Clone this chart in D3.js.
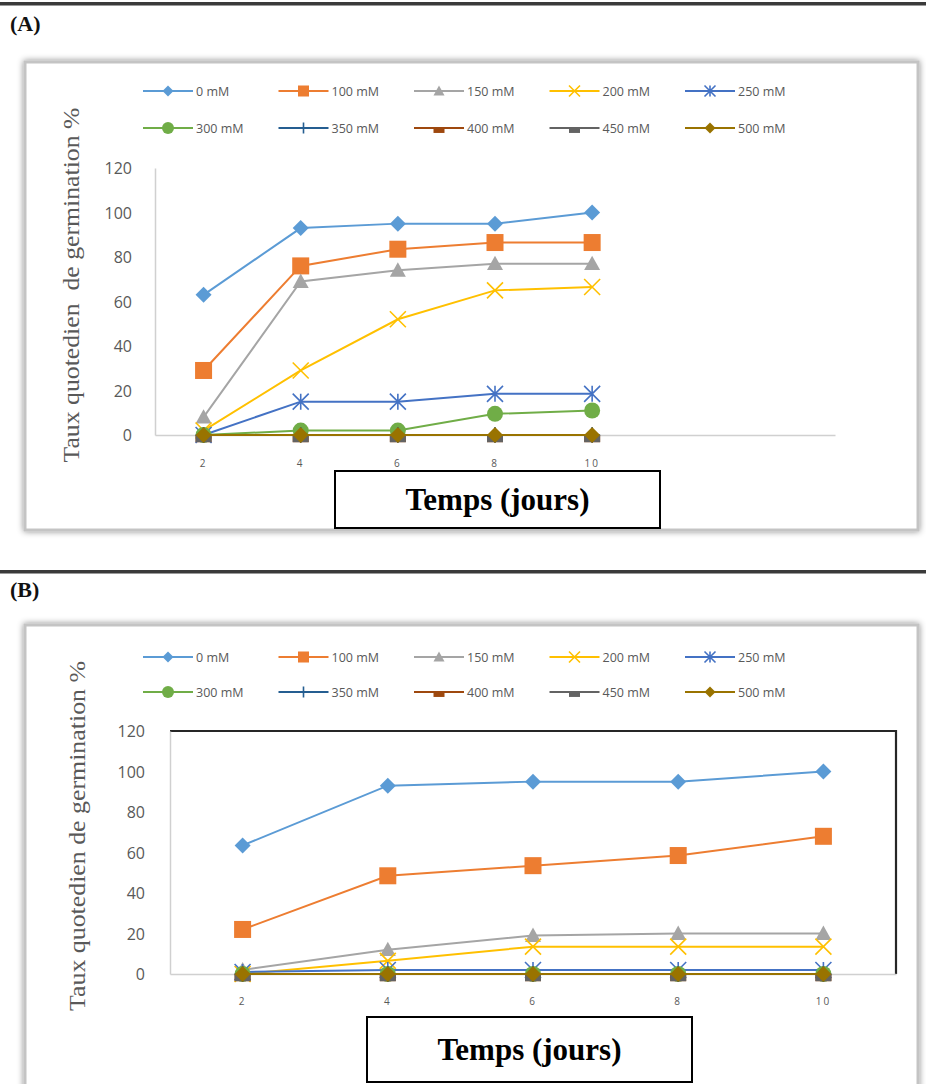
<!DOCTYPE html>
<html lang="fr">
<head>
<meta charset="UTF-8">
<title>Taux quotidien de germination</title>
<script src="https://cdnjs.cloudflare.com/ajax/libs/d3/7.8.5/d3.min.js"></script>
<style>
  * { margin: 0; padding: 0; }
  body { background: #fff; width: 926px; height: 1084px; overflow: hidden; }
  svg { display: block; }
  .tick text { fill: #595959; font-family: "Open Sans", sans-serif; }
</style>
</head>
<body>
<div id="chart"></div>
<script>
// series names (NaCl concentration) and x categories (days)
var concentrations = ["0 mM", "100 mM", "150 mM", "200 mM", "250 mM",
                      "300 mM", "350 mM", "400 mM", "450 mM", "500 mM"];
var days = [2, 4, 6, 8, 10];
var yTicks = [0, 20, 40, 60, 80, 100, 120];

// (A) one row per concentration, one value per day
var valuesA = [
  [63, 93, 95, 95, 100],
  [29, 76, 83.5, 86.5, 86.5],
  [8, 69, 74, 77, 77],
  [2, 29, 52, 65, 66.5],
  [0, 15, 15, 18.5, 18.5],
  [0, 2, 2, 9.5, 11],
  [0, 0, 0, 0, 0],
  [0, 0, 0, 0, 0],
  [0, 0, 0, 0, 0],
  [0, 0, 0, 0, 0]
];

// (B)
var valuesB = [
  [63.5, 93, 95, 95, 100],
  [22, 48.5, 53.5, 58.5, 68],
  [2, 12, 19, 20, 20],
  [0, 6.5, 13.5, 13.5, 13.5],
  [1, 2, 2, 2, 2],
  [0, 0, 0, 0, 0],
  [0, 0, 0, 0, 0],
  [0, 0, 0, 0, 0],
  [0, 0, 0, 0, 0],
  [0, 0, 0, 0, 0]
];

var colors = ["#5B9BD5", "#ED7D31", "#A5A5A5", "#FFC000", "#4472C4",
              "#70AD47", "#255E91", "#9E480E", "#636363", "#997300"];
var markers = ["diamond", "square", "triangle", "x", "star",
               "circle", "plus", "dash", "dash", "diamond"];

var W = 926, H = 1084;
var svg = d3.select("#chart").append("svg")
    .attr("width", W)
    .attr("height", H);

var defs = svg.append("defs");
var shadow = defs.append("filter").attr("id", "shadow")
    .attr("x", "-5%").attr("y", "-5%").attr("width", "110%").attr("height", "110%");
shadow.append("feDropShadow")
    .attr("dx", 0).attr("dy", 0)
    .attr("stdDeviation", 3)
    .attr("flood-color", "#000")
    .attr("flood-opacity", 0.45);

// draws one marker centred on 0,0 inside g, s = nominal size
function drawMarker(g, type, s, color) {
  var h = s / 2;
  if (type == "diamond") {
    g.append("path").attr("d", "M0," + (-h) + "L" + h + ",0L0," + h + "L" + (-h) + ",0Z")
      .attr("fill", color);
  } else if (type == "square") {
    g.append("rect").attr("x", -h).attr("y", -h).attr("width", s).attr("height", s)
      .attr("fill", color);
  } else if (type == "triangle") {
    g.append("path").attr("d", "M0," + (-h) + "L" + h + "," + (h * 0.8) + "L" + (-h) + "," + (h * 0.8) + "Z")
      .attr("fill", color);
  } else if (type == "circle") {
    g.append("circle").attr("r", h).attr("fill", color);
  } else if (type == "x") {
    g.append("path").attr("d", "M" + (-h) + "," + (-h) + "L" + h + "," + h + "M" + h + "," + (-h) + "L" + (-h) + "," + h)
      .attr("stroke", color).attr("stroke-width", 1.6).attr("fill", "none");
  } else if (type == "star") {
    g.append("path").attr("d", "M" + (-h) + "," + (-h) + "L" + h + "," + h + "M" + h + "," + (-h) + "L" + (-h) + "," + h +
        "M0," + (-h) + "L0," + h)
      .attr("stroke", color).attr("stroke-width", 1.6).attr("fill", "none");
  } else if (type == "plus") {
    g.append("path").attr("d", "M0," + (-h) + "L0," + h + "M" + (-h) + ",0L" + h + ",0")
      .attr("stroke", color).attr("stroke-width", 1.6).attr("fill", "none");
  } else if (type == "dash") {
    g.append("rect").attr("x", -h).attr("y", 0).attr("width", s).attr("height", s * 0.45)
      .attr("fill", color);
  }
}

var panels = [
  {
    label: "(A)", ruleY: 4, labelY: 31,
    frame: [25, 62, 893, 468],
    legendY: [91, 128],
    x0: 155, x1: 835, y0: 435, y1: 168, slots: 7,
    yPad: 23, xPad: 25,
    title: "Taux quotedien  de germination %", titleX: 71, titleY: 285, titleLen: 355,
    box: [335, 471, 325, 57],
    border: false,
    values: valuesA
  },
  {
    label: "(B)", ruleY: 572, labelY: 597,
    frame: [25, 625, 893, 480],
    legendY: [657, 692],
    x0: 170, x1: 896, y0: 974, y1: 731, slots: 5,
    yPad: 25, xPad: 24,
    title: "Taux quotedien de germination %", titleX: 77, titleY: 836, titleLen: 350,
    box: [367, 1017, 325, 65],
    border: true,
    values: valuesB
  }
];

panels.forEach(function(p) {
  // horizontal rule and panel letter
  svg.append("rect").attr("x", 0).attr("y", p.ruleY - 2).attr("width", W).attr("height", 3)
    .attr("fill", "#3a3a3a");
  svg.append("rect").attr("x", 0).attr("y", p.ruleY + 1).attr("width", W).attr("height", 1)
    .attr("fill", "#9a9a9a");
  svg.append("text")
    .attr("x", 10).attr("y", p.labelY)
    .attr("font-family", "Liberation Serif, serif")
    .attr("font-weight", "bold")
    .attr("font-size", 22)
    .attr("fill", "#111")
    .text(p.label);

  // chart frame
  svg.append("rect")
    .attr("x", p.frame[0]).attr("y", p.frame[1])
    .attr("width", p.frame[2]).attr("height", p.frame[3])
    .attr("fill", "#fff")
    .attr("stroke", "#c4c4c4")
    .attr("stroke-width", 3)
    .attr("filter", "url(#shadow)");

  // legend, two rows of five
  concentrations.forEach(function(name, i) {
    var lx = 143 + (i % 5) * 135.5;
    var ly = p.legendY[Math.floor(i / 5)];
    var lg = svg.append("g");
    lg.append("line")
      .attr("x1", lx).attr("x2", lx + 50)
      .attr("y1", ly).attr("y2", ly)
      .attr("stroke", colors[i]).attr("stroke-width", 2);
    var mg = lg.append("g").attr("transform", "translate(" + (lx + 25) + "," + ly + ")");
    drawMarker(mg, markers[i], markers[i] == "circle" ? 12 : 11, colors[i]);
    lg.append("text")
      .attr("x", lx + 53).attr("y", ly + 4.5)
      .attr("font-family", "Open Sans, sans-serif")
      .attr("font-size", 12.5)
      .attr("fill", "#595959")
      .text(name);
  });

  var x = d3.scaleBand()
    .domain(d3.range(p.slots))
    .range([p.x0, p.x1]);
  var y = d3.scaleLinear()
    .domain([0, 120])
    .range([p.y0, p.y1]);

  // plot border (B only: dark top/right edges)
  if (p.border) {
    svg.append("path")
      .attr("d", "M" + p.x0 + "," + p.y1 + "H" + p.x1 + "V" + p.y0)
      .attr("fill", "none")
      .attr("stroke", "#262626")
      .attr("stroke-width", 2.2);
  }

  var yAxis = svg.append("g")
    .attr("transform", "translate(" + p.x0 + ",0)")
    .call(d3.axisLeft(y).tickValues(yTicks).tickSize(0).tickPadding(p.yPad));
  yAxis.select(".domain").attr("stroke", "#d0d0d0").attr("stroke-width", 1.5);
  yAxis.selectAll(".tick text").attr("font-size", 16).attr("dy", "0.35em");

  var xAxis = svg.append("g")
    .attr("transform", "translate(0," + p.y0 + ")")
    .call(d3.axisBottom(x)
      .tickValues(d3.range(days.length))
      .tickFormat(function(i) { return days[i]; })
      .tickSize(0).tickPadding(p.xPad));
  xAxis.select(".domain").attr("stroke", "#d0d0d0").attr("stroke-width", 1.5);
  xAxis.selectAll(".tick text").attr("font-size", 10).attr("letter-spacing", 2);

  // y axis title
  svg.append("text")
    .attr("transform", "translate(" + p.titleX + "," + p.titleY + ") rotate(-90)")
    .attr("x", -p.titleLen / 2).attr("y", 8)
    .attr("font-family", "Liberation Serif, serif")
    .attr("font-size", 23)
    .attr("fill", "#595959")
    .attr("textLength", p.titleLen)
    .attr("lengthAdjust", "spacingAndGlyphs")
    .style("white-space", "pre")
    .text(p.title);

  // series lines + markers
  var cx = function(i) { return x(i) + x.bandwidth() / 2; };
  var line = d3.line()
    .x(function(d, i) { return cx(i); })
    .y(function(d) { return y(d); });

  p.values.forEach(function(vals, k) {
    var sg = svg.append("g");
    sg.append("path")
      .datum(vals)
      .attr("d", line)
      .attr("fill", "none")
      .attr("stroke", colors[k])
      .attr("stroke-width", 2);
    vals.forEach(function(v, i) {
      var mg = sg.append("g").attr("transform", "translate(" + cx(i) + "," + y(v) + ")");
      var size = markers[k] == "square" ? 17 : (markers[k] == "circle" ? 16 : 16);
      drawMarker(mg, markers[k], size, colors[k]);
    });
  });

  // axis title box
  svg.append("rect")
    .attr("x", p.box[0]).attr("y", p.box[1])
    .attr("width", p.box[2]).attr("height", p.box[3])
    .attr("fill", "#fff")
    .attr("stroke", "#000")
    .attr("stroke-width", 2);
  svg.append("text")
    .attr("x", p.box[0] + p.box[2] / 2)
    .attr("y", p.box[1] + p.box[3] / 2 + 10)
    .attr("text-anchor", "middle")
    .attr("font-family", "Liberation Serif, serif")
    .attr("font-weight", "bold")
    .attr("font-size", 31)
    .attr("fill", "#000")
    .text("Temps (jours)");
});
</script>
</body>
</html>
